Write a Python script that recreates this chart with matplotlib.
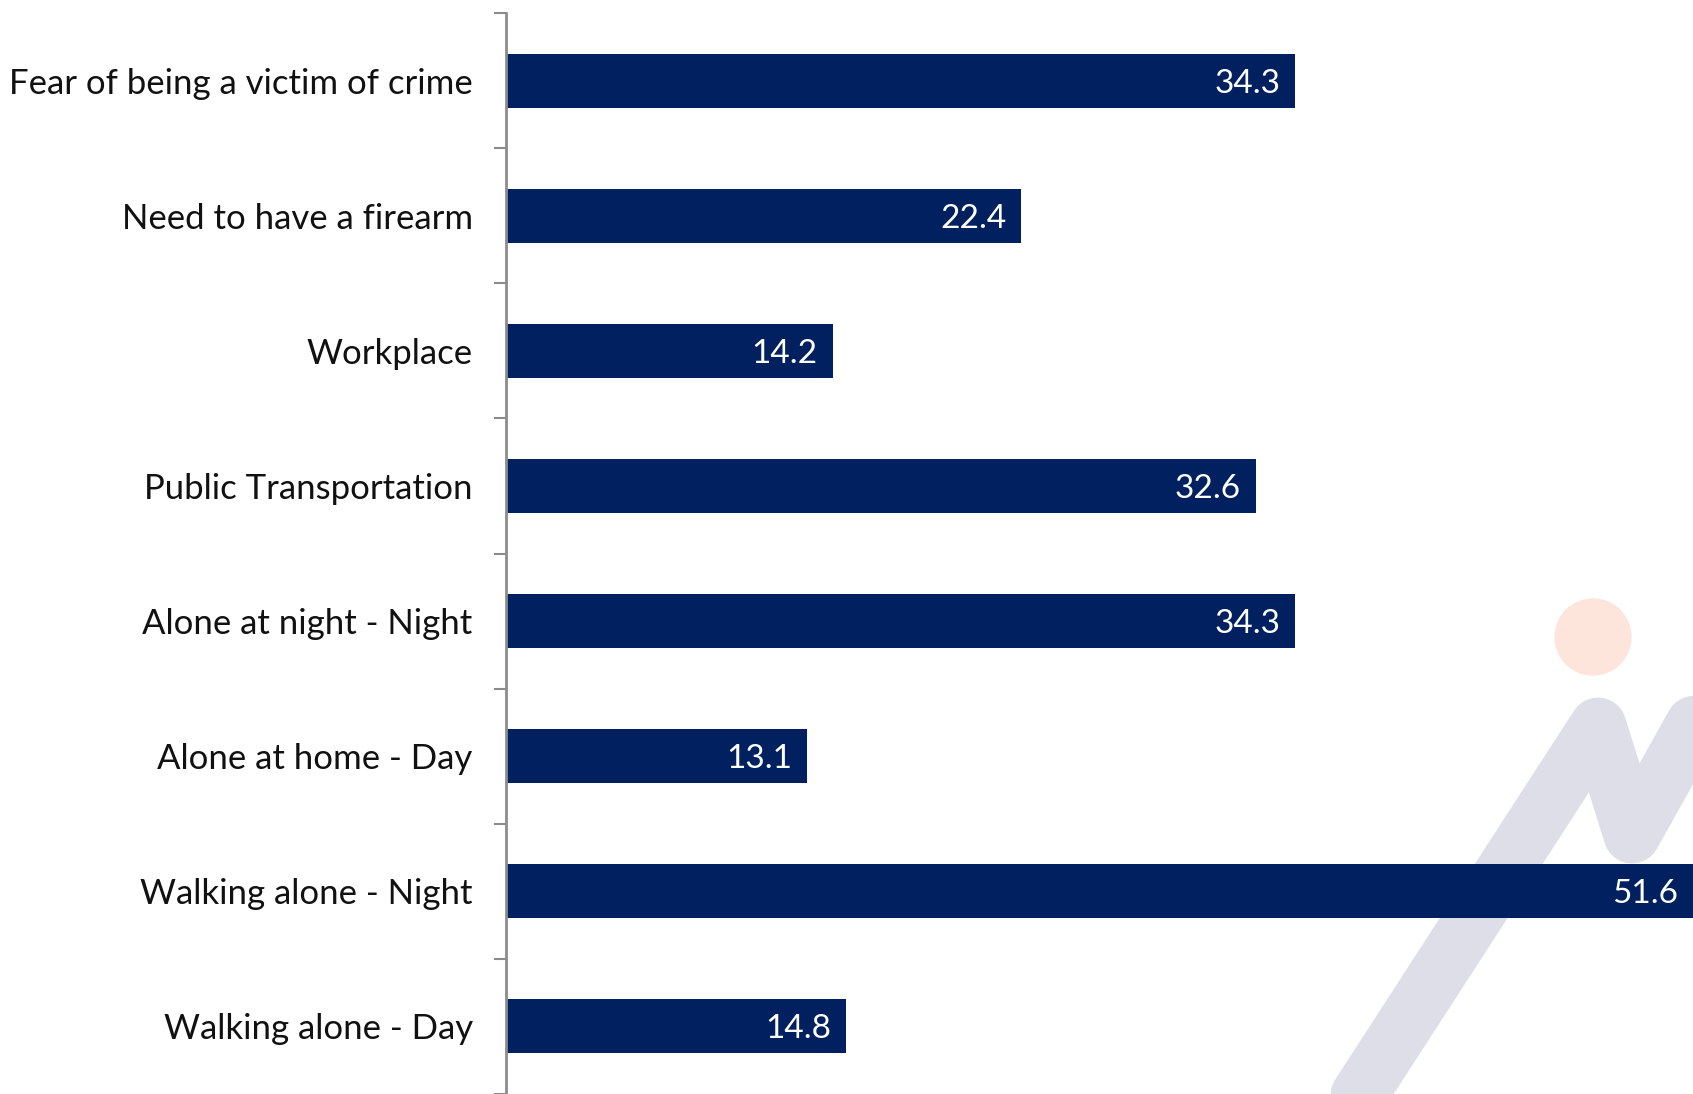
import matplotlib
matplotlib.use("Agg")
import matplotlib.pyplot as plt
from matplotlib.patches import Ellipse
from matplotlib.lines import Line2D

plt.rcParams['font.family'] = ['Lato', 'DejaVu Sans']

# categories from top to bottom, with the value for each
categories = ["Fear of being a victim of crime", "Need to have a firearm", "Workplace",
              "Public Transportation", "Alone at night - Night", "Alone at home - Day",
              "Walking alone - Night", "Walking alone - Day"]
values = [34.3, 22.4, 14.2, 32.6, 34.3, 13.1, 51.6, 14.8]

W, H = 1693, 1094
fig = plt.figure(figsize=(W / 100, H / 100), dpi=100)
ax = fig.add_axes([506 / W, 0.0, 1 - 506 / W, 1 - 13 / H])

#watermark logo in the lower right, drawn behind the bars
def fx(x): return x / W
def fy(y): return 1 - y / H
zig = Line2D([fx(1330), fx(1598), fx(1632), fx(1730)],
             [fy(1140), fy(726), fy(835), fy(660)],
             transform=fig.transFigure, color="#dedee9", lw=41,
             solid_capstyle="round", solid_joinstyle="round", zorder=0)
ax.add_artist(zig)
zig.set_clip_on(False)
dot = Ellipse((fx(1593), fy(637)), 76 / W, 76 / H, transform=fig.transFigure,
              color="#fde5dc", zorder=0)
ax.add_artist(dot)
dot.set_clip_on(False)

ypos = list(range(len(categories)))
bars = ax.barh(ypos, values, height=0.4, color="#002060", zorder=2)
for b, v in zip(bars, values):
    ax.text(b.get_width() - 0.65, b.get_y() + b.get_height() / 2, f"{v:.1f}",
            ha="right", va="center_baseline", color="white", fontsize=24, zorder=3)

ax.set_ylim(len(categories) - 0.5, -0.5)
ax.set_xlim(0, 51.6)
ax.set_yticks(ypos)
ax.set_yticklabels(categories, fontsize=25, color="#111111")
ax.tick_params(axis="y", which="major", length=0, pad=24)
ax.set_yticks([i - 0.5 for i in range(len(categories) + 1)], minor=True)
ax.tick_params(axis="y", which="minor", length=9, width=1.5, color="#8c8c8c")
ax.set_xticks([])
for s in ["top", "right", "bottom"]:
    ax.spines[s].set_visible(False)
ax.spines["left"].set_color("#8c8c8c")
ax.spines["left"].set_linewidth(2)
ax.patch.set_alpha(0)

fig.savefig("out.png", dpi=100)
